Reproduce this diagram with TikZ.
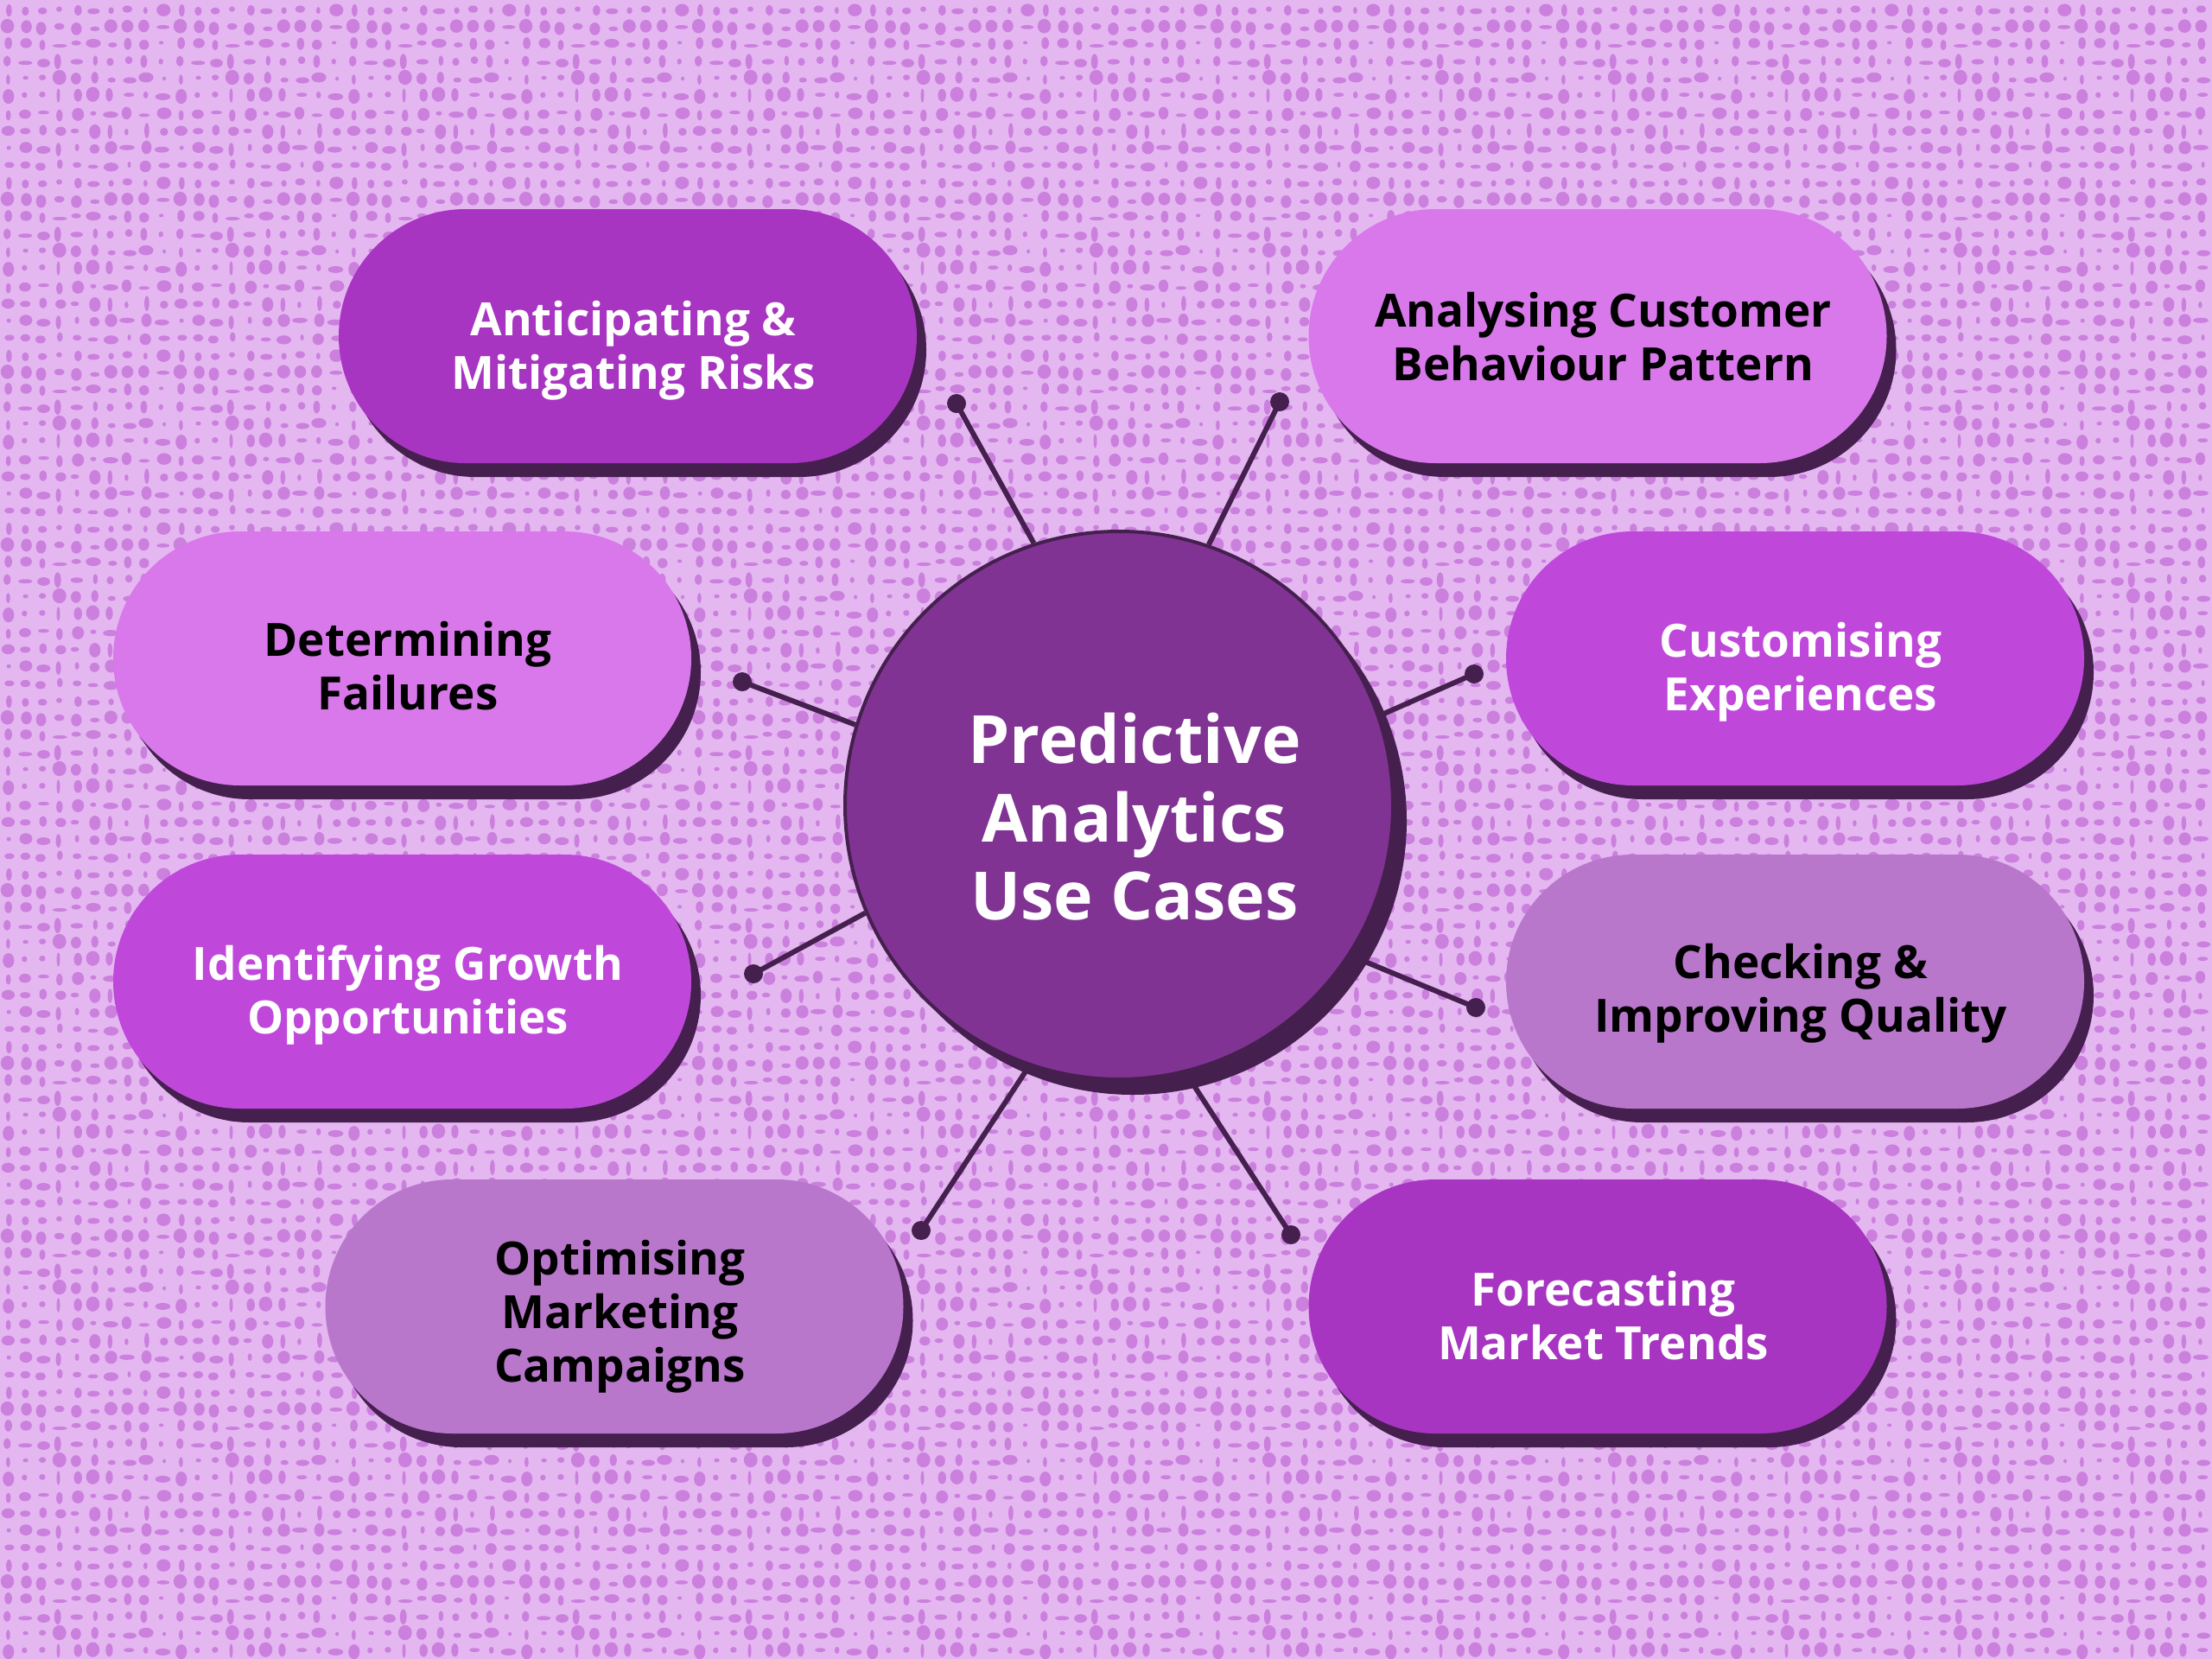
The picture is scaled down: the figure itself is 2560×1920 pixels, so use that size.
\documentclass[tikz,border=0pt]{standalone}
\usepackage{fontspec}
\setmainfont{Open Sans}
\usetikzlibrary{shadows,patterns}
\definecolor{bgc}{HTML}{E4B7F1}
\definecolor{dotc}{HTML}{CB80DD}
\definecolor{dark}{HTML}{45204F}
\definecolor{cA}{HTML}{A834C2}
\definecolor{cB}{HTML}{D878EA}
\definecolor{cC}{HTML}{BF48DB}
\definecolor{cD}{HTML}{B877CB}
\definecolor{hubc}{HTML}{813393}
\pgfdeclarepatternformonly{weave}{\pgfpointorigin}{\pgfpoint{200pt}{200pt}}{\pgfpoint{200pt}{200pt}}{%
  \pgfmathsetseed{11}%
  \foreach \i in {0,...,9}{\foreach \j in {0,...,9}{%
    \pgfmathsetmacro\rx{2+7*rnd}\pgfmathsetmacro\ry{2+7*rnd}%
    \pgfmathsetmacro\cx{\i*20+10+(2*rand)}\pgfmathsetmacro\cy{\j*20+10+(2*rand)}%
    \pgfpathellipse{\pgfpoint{\cx pt}{\cy pt}}{\pgfpoint{\rx pt}{0pt}}{\pgfpoint{0pt}{\ry pt}}%
    \pgfusepath{fill}%
  }}%
}
\pgfdeclarelayer{bg}
\pgfdeclarelayer{lines}
\pgfsetlayers{bg,lines,main}
\newcommand\lifttext[1]{\rule{0pt}{#1}}
\newcommand\hubpad{\hspace*{36pt}}
\newcommand\pp{\hspace*{13pt}}
\begin{document}
\begin{tikzpicture}[x=1pt,y=-1pt,
  pill/.style={rectangle, rounded corners=147pt, minimum width=669pt, minimum height=294pt,
    inner sep=0pt, align=center, font=\bfseries\fontsize{53}{62}\selectfont,
    general shadow={fill=dark, shadow xshift=11pt, shadow yshift=-16pt}},
  hub/.style={circle, fill=hubc, draw=dark, line width=4pt, minimum size=634pt, inner sep=0pt,
    general shadow={fill=dark, shadow xshift=16pt, shadow yshift=-18pt},
    text=white, align=center, font=\bfseries\fontsize{77}{90.5}\selectfont},
  dotn/.style={circle, fill=dark, minimum size=22pt, inner sep=0pt},
  conn/.style={draw=dark, line width=6pt}]
\useasboundingbox (0,0) rectangle (2560,1920);
\begin{pgfonlayer}{bg}
\fill[bgc] (0,0) rectangle (2560,1920);
\fill[pattern=weave, pattern color=dotc] (0,0) rectangle (2560,1920);
\end{pgfonlayer}

\node[hub] (c) at (1295,932) {\lifttext{85pt}\hubpad Predictive\\\hubpad Analytics\\\hubpad Use Cases};

\node[pill, fill=cA, text=white] (p1) at (726.5,389) {\lifttext{73pt}\pp Anticipating \&\\\pp Mitigating Risks};
\node[pill, fill=cB, text=black] (p2) at (1849,389) {\lifttext{42pt}\pp Analysing Customer\\\pp Behaviour Pattern};
\node[pill, fill=cB, text=black] (p3) at (465.5,762) {\lifttext{57pt}\pp Determining\\\pp Failures};
\node[pill, fill=cC, text=white] (p4) at (2077.5,762) {\lifttext{71pt}\pp Customising\\\pp Experiences};
\node[pill, fill=cC, text=white] (p5) at (465.5,1136) {\lifttext{71pt}\pp Identifying Growth\\\pp Opportunities};
\node[pill, fill=cD, text=black] (p6) at (2077.5,1136) {\lifttext{67pt}\pp Checking \&\\\pp Improving Quality};
\node[pill, fill=cD, text=black] (p7) at (711,1512) {\lifttext{63pt}\pp Optimising\\\pp Marketing\\\pp Campaigns};
\node[pill, fill=cA, text=white] (p8) at (1849,1512) {\lifttext{61pt}\pp Forecasting\\\pp Market Trends};

\begin{pgfonlayer}{lines}
\node[dotn] (d1) at (1107,467) {};
\node[dotn] (d2) at (1481,465) {};
\node[dotn] (d3) at (859,789) {};
\node[dotn] (d4) at (1706,780) {};
\node[dotn] (d5) at (872,1127) {};
\node[dotn] (d6) at (1708,1166) {};
\node[dotn] (d7) at (1066,1424) {};
\node[dotn] (d8) at (1494,1429) {};
\draw[conn] (d1.center) -- (c.108.7);
\draw[conn] (d2.center) -- (c.71.5);
\draw[conn] (d3.center) -- (c.163.3);
\draw[conn] (d4.center) -- (c.19);
\draw[conn] (d5.center) -- (c.203);
\draw[conn] (d6.center) -- (c.327);
\draw[conn] (d7.center) -- (c.251.5);
\draw[conn] (d8.center) -- (c.284.5);
\end{pgfonlayer}
\end{tikzpicture}
\end{document}
